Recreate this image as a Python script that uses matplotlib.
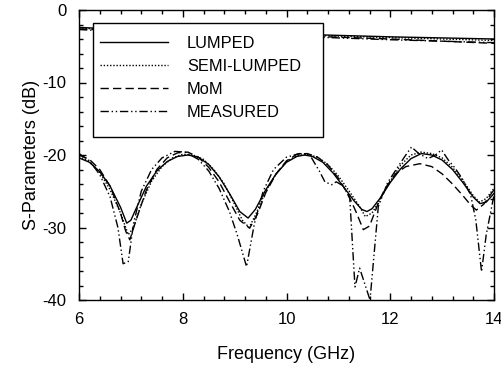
import matplotlib
matplotlib.use("Agg")
import matplotlib.pyplot as plt
from matplotlib.ticker import MultipleLocator
from matplotlib.patches import Rectangle

plt.rcParams['font.family'] = ['Liberation Sans', 'DejaVu Sans']
plt.rcParams['axes.unicode_minus'] = False

# ---- S21 (top curves) ----
s21_freq = [6.0, 6.3, 8.0, 10.0, 12.0, 14.0]
s21_lumped = [-2.4, -2.5, -2.9, -3.3, -3.7, -4.0]
s21_semi = [-2.5, -2.6, -3.0, -3.4, -3.8, -4.2]
s21_mom = [-2.6, -2.7, -3.1, -3.5, -4.0, -4.6]
s21_meas = [-2.7, -2.8, -3.2, -3.6, -4.1, -4.5]

# ---- S11 LUMPED ----
lumped_freq = [6.0, 6.2, 6.4, 6.6, 6.8, 6.92, 7.0, 7.1, 7.3, 7.5, 7.7, 7.9, 8.1, 8.3,
               8.5, 8.7, 8.9, 9.1, 9.26, 9.4, 9.6, 9.8, 10.0, 10.2, 10.35, 10.5, 10.7,
               10.9, 11.1, 11.3, 11.45, 11.55, 11.65, 11.8, 12.0, 12.2, 12.4, 12.6,
               12.8, 13.0, 13.2, 13.4, 13.6, 13.73, 13.85, 14.0]
lumped_s11 = [-20.4, -21.0, -22.3, -24.3, -27.2, -29.4, -29.0, -27.4, -24.3, -22.2,
              -20.9, -20.2, -20.0, -20.3, -21.3, -23.0, -25.3, -27.8, -28.7, -27.5,
              -24.8, -22.6, -21.0, -20.2, -20.0, -20.2, -21.0, -22.5, -24.4, -26.3,
              -27.5, -27.8, -27.4, -26.0, -23.8, -21.9, -20.5, -19.8, -20.0, -20.7,
              -22.0, -23.8, -25.8, -26.7, -26.5, -25.3]

# ---- S11 SEMI-LUMPED ----
semi_freq = [6.0, 6.2, 6.4, 6.6, 6.8, 6.95, 7.05, 7.2, 7.4, 7.6, 7.8, 8.0, 8.2, 8.4,
             8.6, 8.8, 9.0, 9.15, 9.28, 9.4, 9.6, 9.8, 10.0, 10.2, 10.4, 10.6, 10.8,
             11.0, 11.2, 11.4, 11.52, 11.65, 11.8, 12.0, 12.2, 12.4, 12.6, 12.8,
             13.0, 13.2, 13.4, 13.6, 13.72, 13.85, 14.0]
semi_s11 = [-20.2, -20.9, -22.4, -24.8, -28.0, -31.0, -30.0, -26.8, -23.6, -21.6,
            -20.4, -19.9, -20.0, -20.6, -22.0, -24.0, -26.8, -29.0, -30.0, -28.3,
            -25.0, -22.6, -20.9, -20.1, -19.9, -20.3, -21.3, -22.9, -24.9, -27.0,
            -28.5, -28.0, -26.2, -23.6, -21.4, -20.0, -19.6, -19.8, -20.4, -21.7,
            -23.5, -25.6, -26.5, -26.0, -24.6]

# ---- S11 MoM ----
mom_freq = [6.0, 6.2, 6.4, 6.6, 6.8, 6.9, 6.98, 7.1, 7.3, 7.5, 7.7, 7.9, 8.1, 8.3,
            8.5, 8.7, 8.9, 9.1, 9.29, 9.45, 9.6, 9.8, 10.0, 10.2, 10.4, 10.6, 10.8,
            11.0, 11.2, 11.35, 11.48, 11.6, 11.75, 11.9, 12.1, 12.3, 12.57, 12.8,
            13.0, 13.2, 13.4, 13.55, 13.66, 13.8, 14.0]
mom_s11 = [-20.0, -20.6, -22.0, -24.3, -28.0, -30.5, -31.7, -29.0, -24.8, -22.0,
           -20.4, -19.7, -19.6, -20.3, -21.7, -23.7, -26.4, -29.0, -30.1, -28.0,
           -25.2, -22.6, -20.8, -19.9, -19.8, -20.3, -21.4, -23.2, -25.6, -28.0,
           -30.3, -29.8, -27.0, -24.6, -22.6, -21.6, -21.2, -21.6, -22.6, -24.0,
           -25.6, -26.9, -27.6, -26.8, -24.8]

# ---- S11 MEASURED ----
meas_freq = [6.0, 6.2, 6.4, 6.6, 6.75, 6.85, 6.95, 7.05, 7.2, 7.4, 7.6, 7.85, 8.05,
             8.3, 8.5, 8.7, 8.9, 9.05, 9.23, 9.38, 9.55, 9.75, 10.0, 10.25, 10.45,
             10.64, 10.74, 10.87, 10.96, 11.1, 11.22, 11.32, 11.41, 11.61, 11.77,
             11.95, 12.15, 12.3, 12.41, 12.55, 12.73, 12.87, 12.99, 13.12, 13.25,
             13.4, 13.55, 13.65, 13.76, 13.85, 14.0]
meas_s11 = [-19.8, -20.8, -22.7, -25.8, -30.0, -35.0, -34.7, -29.5, -25.0, -22.0,
            -20.4, -19.5, -19.6, -20.6, -22.2, -24.6, -27.8, -31.0, -35.4, -29.5,
            -25.0, -22.0, -20.3, -19.8, -20.0, -22.3, -23.7, -24.1, -23.7, -24.3,
            -26.0, -38.2, -35.6, -40.0, -27.1, -23.8, -21.6, -20.0, -18.9, -19.8,
            -20.5, -20.0, -19.3, -20.7, -21.8, -23.4, -25.5, -29.0, -36.1, -31.0,
            -25.5]

xticks = [6, 8, 10, 12, 14]
yticks = [0, -10, -20, -30, -40]

fig = plt.figure(figsize=(5.01, 3.70), dpi=100)
ax = fig.add_axes([79 / 501, 1 - 300 / 370, (494 - 79) / 501, 290 / 370])

lw = 1.0
st_solid = '-'
st_dot = (0, (1, 1.3))
st_dash = (0, (6, 3))
st_meas = (0, (6, 2, 1, 2, 1, 2))

ax.plot(lumped_freq, lumped_s11, color='black', lw=lw, ls=st_solid, label='LUMPED')
ax.plot(semi_freq, semi_s11, color='black', lw=lw, ls=st_dot, label='SEMI-LUMPED')
ax.plot(mom_freq, mom_s11, color='black', lw=lw, ls=st_dash, label='MoM')
ax.plot(meas_freq, meas_s11, color='black', lw=lw, ls=st_meas, label='MEASURED')

ax.plot(s21_freq, s21_lumped, color='black', lw=lw, ls=st_solid)
ax.plot(s21_freq, s21_semi, color='black', lw=lw, ls=st_dot)
ax.plot(s21_freq, s21_mom, color='black', lw=lw, ls=st_dash)
ax.plot(s21_freq, s21_meas, color='black', lw=lw, ls=st_meas)

ax.set_xlim(6, 14)
ax.set_ylim(-40, 0)
ax.set_xticks(xticks)
ax.set_yticks(yticks)
ax.xaxis.set_minor_locator(MultipleLocator(0.4))
ax.yaxis.set_minor_locator(MultipleLocator(2))
ax.tick_params(which='both', direction='in', top=True, right=True, labelsize=12,
               width=1.0, colors='black')
ax.tick_params(which='major', length=5, pad=9)
ax.tick_params(which='minor', length=3)
for sp in ax.spines.values():
    sp.set_linewidth(1.0)

ax.set_xlabel('Frequency (GHz)', fontsize=13, labelpad=13)
ax.set_ylabel('S-Parameters (dB)', fontsize=13, labelpad=2)

# legend frame (box) and entries
frame = Rectangle((14 / 415, (300 - 137) / 290), (323 - 93) / 415, (137 - 23) / 290,
                  transform=ax.transAxes, facecolor='white', edgecolor='black',
                  lw=1.0, zorder=4.5)
ax.add_patch(frame)
leg = ax.legend(loc='upper left', bbox_to_anchor=(21 / 415, (300 - 36) / 290),
                borderaxespad=0, frameon=False,
                fontsize=11.8, handlelength=4.15, handletextpad=1.15,
                labelspacing=0.48, borderpad=0)
leg.set_zorder(5)

fig.savefig('out.png', dpi=100)
